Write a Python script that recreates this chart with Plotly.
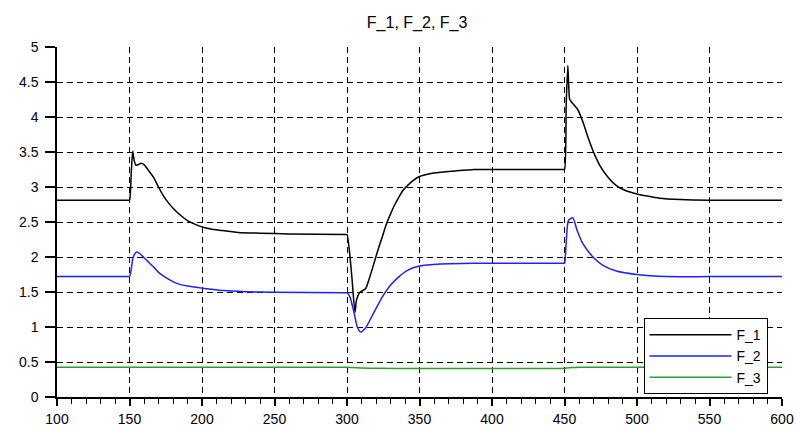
import plotly.graph_objects as go

# Time samples and readings for each signal
t_f1 = [100, 149, 150, 151.2, 152.2, 153.2, 154.5, 156, 158, 160, 163, 166.5, 170, 173.5, 177,
        180.4, 185, 190, 195, 200, 206, 213, 225, 240, 260, 299,
        300, 303, 305.5, 306.5, 308.3, 310, 312.9, 315.5, 318.6, 321.5, 324.4, 327, 330.1,
        333, 335.9, 338.5, 341.7, 345.5, 350, 357, 364.7, 375, 387.7, 410, 449,
        450, 451.2, 452.3, 453, 453.6, 455.8, 459.3, 462.7, 466.2, 469.6, 474.3, 480, 485.8,
        492, 500, 507, 515.4, 530, 550, 600]
f1 = [2.81, 2.81, 2.81, 3.2, 3.51, 3.38, 3.31, 3.32, 3.34, 3.32, 3.24, 3.14, 3.0, 2.87, 2.77,
      2.69, 2.60, 2.52, 2.47, 2.43, 2.40, 2.38, 2.35, 2.34, 2.33, 2.32,
      2.32, 1.80, 1.21, 1.38, 1.48, 1.51, 1.55, 1.70, 1.91, 2.11, 2.29, 2.46, 2.62,
      2.75, 2.86, 2.95, 3.02, 3.09, 3.15, 3.19, 3.21, 3.23, 3.25, 3.25, 3.25,
      3.25, 4.2, 4.74, 4.4, 4.25, 4.19, 4.10, 3.93, 3.71, 3.52, 3.31, 3.14, 3.02,
      2.95, 2.90, 2.87, 2.84, 2.82, 2.81, 2.81]

t_f2 = [100, 149, 150, 151, 152.3, 153.5, 155, 157, 160, 163, 166.5, 170, 174, 178, 183, 190,
        200, 206, 215, 230, 250, 299,
        300, 302, 304.8, 307.1, 309.4, 312.9, 318.6, 324.4, 330.1, 335.9, 341.7, 350, 364.7,
        387.7, 449,
        450, 451.1, 452.7, 455.7, 458.7, 462.7, 469.6, 476.5, 485.8, 500, 520, 550, 600]
f2 = [1.72, 1.72, 1.72, 1.80, 1.98, 2.04, 2.07, 2.05, 1.99, 1.93, 1.86, 1.78, 1.72, 1.67, 1.62, 1.585,
      1.555, 1.54, 1.52, 1.505, 1.495, 1.49,
      1.49, 1.43, 1.21, 1.00, 0.93, 0.99, 1.21, 1.43, 1.60, 1.72, 1.81, 1.87, 1.90,
      1.91, 1.91,
      1.91, 2.19, 2.52, 2.56, 2.38, 2.19, 2.00, 1.88, 1.80, 1.75, 1.72, 1.72, 1.72]

t_f3 = [100, 300, 310, 320, 450, 455, 460, 600]
f3 = [0.425, 0.425, 0.415, 0.41, 0.41, 0.42, 0.425, 0.425]

series = [("F_1", t_f1, f1, "#000000"),
          ("F_2", t_f2, f2, "#1f1fff"),
          ("F_3", t_f3, f3, "#2a9d2a")]

x_ticks = [100, 150, 200, 250, 300, 350, 400, 450, 500, 550, 600]
y_ticks = [0, 0.5, 1, 1.5, 2, 2.5, 3, 3.5, 4, 4.5, 5]
y_labels = ["0", "0.5", "1", "1.5", "2", "2.5", "3", "3.5", "4", "4.5", "5"]

fig = go.Figure()
for name, t, v, c in series:
    fig.add_trace(go.Scatter(x=t, y=v, mode="lines", name=name,
                             line=dict(color=c, width=1.5, shape="spline", smoothing=0.6)))

family = "Liberation Sans, Arial, sans-serif"

fig.update_layout(
    width=796, height=427,
    margin=dict(l=57, r=14, t=47, b=30, pad=0),
    paper_bgcolor="white", plot_bgcolor="white",
    font=dict(family=family, size=14, color="#000000"),
    title=dict(text="F_1, F_2, F_3", x=0.524, xanchor="center", y=0.948, yanchor="middle",
               font=dict(family=family, size=16, color="#000")),
    showlegend=True,
    legend=dict(x=0.98, xanchor="right", y=0.008, yanchor="bottom",
                bgcolor="white", bordercolor="#000", borderwidth=1,
                font=dict(size=14), itemwidth=82, tracegroupgap=0),
    xaxis=dict(range=[100, 600], tickvals=x_ticks, ticktext=[str(v) for v in x_ticks],
               automargin=False,
               showline=True, linecolor="#000", linewidth=1.5,
               ticks="outside", ticklen=7, tickwidth=1.5, tickcolor="#000",
               minor=dict(dtick=10, ticks="outside", ticklen=5, tickwidth=1, tickcolor="#000",
                          showgrid=False),
               showgrid=True, gridcolor="#000", gridwidth=1.4, griddash="6px,4px",
               zeroline=False, ticklabelstandoff=1),
    yaxis=dict(range=[0, 5], tickvals=y_ticks, ticktext=y_labels,
               automargin=False,
               showline=True, linecolor="#000", linewidth=1.5,
               ticks="outside", ticklen=10, tickwidth=1.5, tickcolor="#000",
               showgrid=True, gridcolor="#000", gridwidth=1.4, griddash="6px,4px",
               zeroline=False, ticklabelstandoff=4),
)

fig.write_html("out.html")
